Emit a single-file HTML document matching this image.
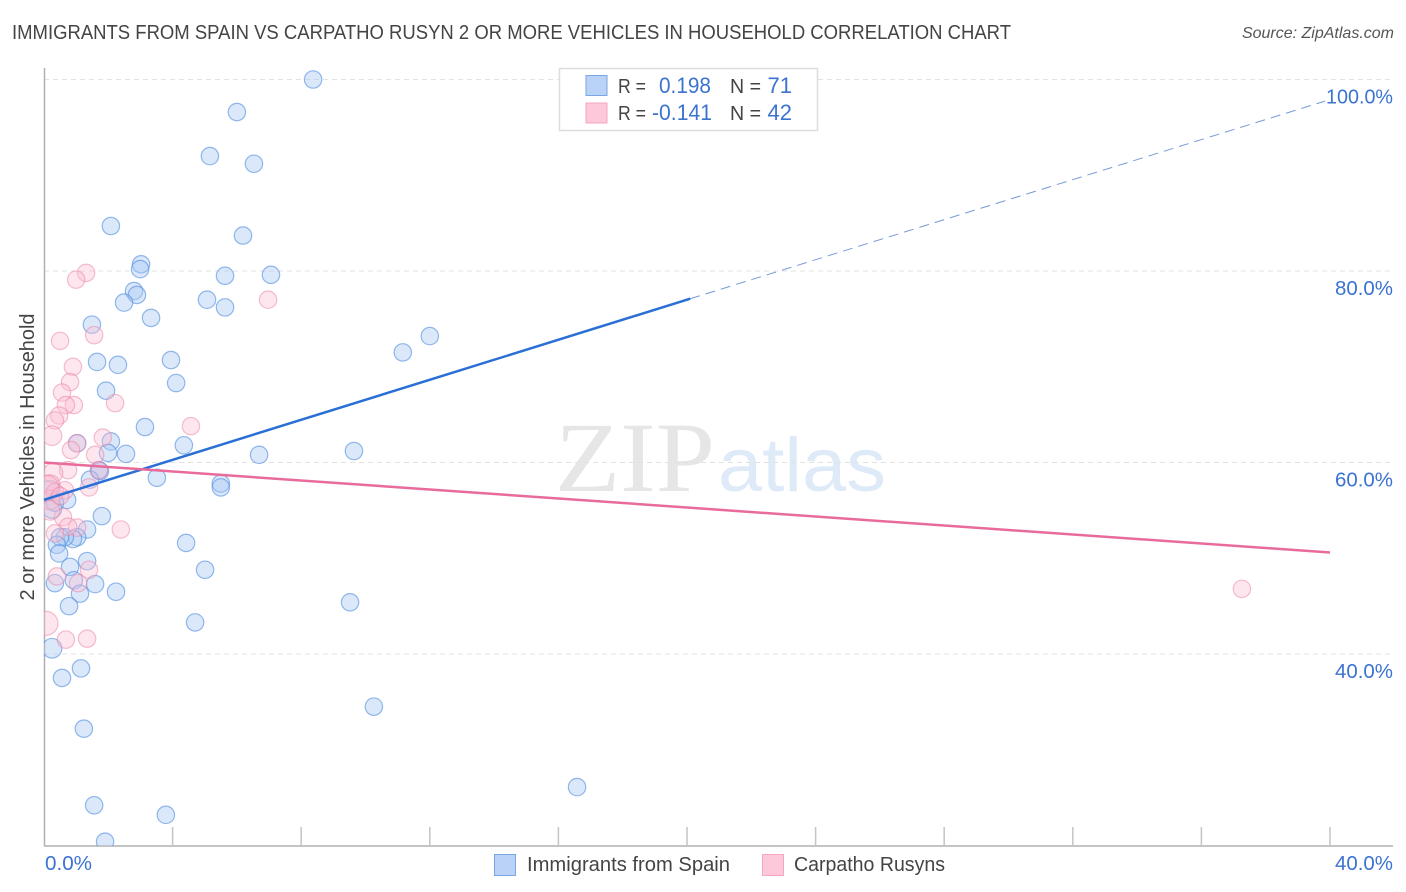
<!DOCTYPE html>
<html>
<head>
<meta charset="utf-8">
<title>Immigrants from Spain vs Carpatho Rusyn correlation chart</title>
<style>
  html, body { margin: 0; padding: 0; background: #fff; }
  svg { display: block; }
  text { font-family: "Liberation Sans", sans-serif; }
</style>
</head>
<body>
<svg id="chart" xmlns="http://www.w3.org/2000/svg" width="1406" height="892" viewBox="0 0 1406 892">
  <rect x="0" y="0" width="1406" height="892" fill="#ffffff"/>
  <text x="12" y="39" font-size="20" fill="#444444" textLength="999" lengthAdjust="spacingAndGlyphs">IMMIGRANTS FROM SPAIN VS CARPATHO RUSYN 2 OR MORE VEHICLES IN HOUSEHOLD CORRELATION CHART</text>
  <text x="1394" y="38" font-size="16" font-style="italic" fill="#555555" text-anchor="end">Source: ZipAtlas.com</text>
  <g>
    <text x="555" y="491" font-size="100" fill="#e6e6e6" style="font-family:'Liberation Serif',serif" textLength="160" lengthAdjust="spacingAndGlyphs">ZIP</text>
    <text x="718" y="491" font-size="76" fill="#deeaf8" textLength="168" lengthAdjust="spacingAndGlyphs">atlas</text>
  </g>
  <g id="grid"></g>
  <g id="axes"></g>
  <defs>
    <clipPath id="plot-clip"><rect x="44" y="60" width="1360" height="786"/></clipPath>
  </defs>
  <g id="points-blue" clip-path="url(#plot-clip)"></g>
  <g id="points-pink" clip-path="url(#plot-clip)"></g>
  <g id="trends"></g>
  <g id="labels"></g>
  <text transform="translate(34,457) rotate(-90)" font-size="20" fill="#444444" text-anchor="middle" textLength="287" lengthAdjust="spacingAndGlyphs">2 or more Vehicles in Household</text>

  <g>
    <rect x="559.5" y="68.5" width="258" height="62" fill="#ffffff" stroke="#dddddd" stroke-width="1.5"/>
    <rect x="586" y="75.5" width="21" height="20" fill="#b9d2f5" stroke="#7ba6e3" stroke-width="1"/>
    <rect x="586" y="103" width="21" height="20" fill="#fcc8da" stroke="#f4a6c2" stroke-width="1"/>
    <text x="618" y="93" font-size="20" fill="#444444" textLength="28" lengthAdjust="spacingAndGlyphs">R =</text>
    <text x="659" y="93" font-size="22" fill="#3b73d1" textLength="52" lengthAdjust="spacingAndGlyphs">0.198</text>
    <text x="730" y="93" font-size="20" fill="#444444" textLength="31" lengthAdjust="spacingAndGlyphs">N =</text>
    <text x="792" y="93" font-size="22" fill="#3b73d1" text-anchor="end">71</text>
    <text x="618" y="120" font-size="20" fill="#444444" textLength="28" lengthAdjust="spacingAndGlyphs">R =</text>
    <text x="652" y="120" font-size="22" fill="#3b73d1" textLength="60" lengthAdjust="spacingAndGlyphs">-0.141</text>
    <text x="730" y="120" font-size="20" fill="#444444" textLength="31" lengthAdjust="spacingAndGlyphs">N =</text>
    <text x="792" y="120" font-size="22" fill="#3b73d1" text-anchor="end">42</text>
  </g>

  <g>
    <rect x="494.5" y="854.5" width="21" height="21" fill="#b9d2f5" stroke="#7ba6e3" stroke-width="1"/>
    <text x="527" y="871" font-size="20" fill="#444444" textLength="203" lengthAdjust="spacingAndGlyphs">Immigrants from Spain</text>
    <rect x="762.5" y="854.5" width="21" height="21" fill="#fcc8da" stroke="#f4a6c2" stroke-width="1"/>
    <text x="794" y="871" font-size="20" fill="#444444" textLength="151" lengthAdjust="spacingAndGlyphs">Carpatho Rusyns</text>
  </g>
</svg>

<script>
// Data values (percent)
const spainX = [8.37,6.00,5.16,6.53,2.08,6.19,3.02,2.99,7.06,5.63,2.80,2.89,2.49,5.07,5.63,3.33,1.49,12.00,11.16,3.95,1.65,2.30,4.11,1.93,3.14,2.08,4.35,1.03,2.55,1.99,6.69,9.64,1.71,1.74,1.43,3.51,5.50,5.50,0.19,0.72,0.25,0.34,1.80,1.34,1.03,0.90,0.65,0.50,0.40,0.47,4.42,1.34,0.81,5.01,0.93,1.59,0.34,1.12,2.24,0.78,9.52,4.70,0.25,1.15,0.56,10.26,1.24,1.56,3.79,16.58,1.90];
const spainY = [100.0,96.6,92.0,91.2,84.7,83.7,80.7,80.2,79.6,79.5,77.9,77.5,76.7,77.0,76.2,75.1,74.4,73.2,71.5,70.7,70.5,70.2,68.3,67.5,63.7,62.2,61.8,62.0,60.9,61.0,60.8,61.2,59.2,59.1,58.2,58.4,57.8,57.4,57.1,56.1,55.2,55.8,54.4,53.0,52.2,52.0,52.2,52.2,51.4,50.5,51.6,49.7,49.1,48.8,47.7,47.3,47.4,46.3,46.5,45.0,45.4,43.3,40.6,38.5,37.5,34.5,32.2,24.2,23.2,26.1,20.4];
const rusynX = [1.31,1.00,6.97,1.56,0.50,0.90,0.81,0.56,2.21,0.93,0.68,0.47,0.34,0.25,4.57,1.83,1.03,0.84,1.59,0.75,0.28,1.71,1.40,0.65,0.19,0.34,0.19,0.59,1.03,0.75,2.39,0.34,1.40,0.40,1.06,0.06,0.68,1.34,37.26,0.19,0.09,0.50];
const rusynY = [79.8,79.1,77.0,73.3,72.7,70.0,68.4,67.3,66.2,66.0,66.0,64.9,64.4,62.8,63.8,62.6,62.0,61.3,60.8,59.2,58.9,59.2,57.4,57.1,57.7,56.9,56.1,54.3,53.2,53.3,53.0,52.6,48.8,48.1,47.4,43.2,41.5,41.6,46.8,55.0,57.4,56.5];
const spainTrendEnds = [56.1, 97.9];
const rusynTrendEnds = [60.0, 50.6];
const trendXEnds = [0, 40];
const spainSolidUntil = 20.1;
const yTicks = [100, 80, 60, 40];
const yTickLabels = ["100.0%", "80.0%", "60.0%", "40.0%"];
const xTicks = [4, 8, 12, 16, 20, 24, 28, 32, 36, 40];
const xEndLabels = ["0.0%", "40.0%"];

const NS = "http://www.w3.org/2000/svg";
function sx(v) { return 44 + v * 32.15; }
function sy(v) { return 654 - (v - 40) * 9.575; }
function make(tag, attrs, parent) {
  const el = document.createElementNS(NS, tag);
  for (const k in attrs) el.setAttribute(k, attrs[k]);
  parent.appendChild(el);
  return el;
}
function radius(x) { return x < 0.1 ? 12 : (x < 0.3 ? 9.8 : 8.7); }

const gridG = document.getElementById("grid");
yTicks.forEach(function (t) {
  const l = make("line", {x1: 44, x2: 1393, y1: sy(t), y2: sy(t), stroke: "#e2e2e2", "stroke-width": 1, "stroke-dasharray": "5 4"}, gridG);
  
  
});

const axesG = document.getElementById("axes");
const yAxis = make("line", {x1: 44.5, x2: 44.5, y1: 68, y2: 846, stroke: "#b0b0b0", "stroke-width": 1.5}, axesG);


const xAxis = make("line", {x1: 44, x2: 1393, y1: 846, y2: 846, stroke: "#b0b0b0", "stroke-width": 1.5}, axesG);


xTicks.forEach(function (t) {
  const l = make("line", {x1: sx(t), x2: sx(t), y1: 827, y2: 846, stroke: "#c4c4c4", "stroke-width": 1.5}, axesG);
  
  
});

const blueG = document.getElementById("points-blue");
spainX.forEach(function (x, i) {
  const c = make("circle", {cx: sx(x), cy: sy(spainY[i]), r: radius(x), fill: "#a9c8f2", "fill-opacity": 0.42, stroke: "#4f8ce0", "stroke-opacity": 0.6, "stroke-width": 1.2}, blueG);
  
  
});
const pinkG = document.getElementById("points-pink");
rusynX.forEach(function (x, i) {
  const c = make("circle", {cx: sx(x), cy: sy(rusynY[i]), r: radius(x), fill: "#f9bcd2", "fill-opacity": 0.38, stroke: "#ec7fa6", "stroke-opacity": 0.5, "stroke-width": 1.2}, pinkG);
  
  
});

const trendG = document.getElementById("trends");
function spainTrendAt(x) {
  return spainTrendEnds[0] + (spainTrendEnds[1] - spainTrendEnds[0]) * (x - trendXEnds[0]) / (trendXEnds[1] - trendXEnds[0]);
}
const blueDash = make("line", {x1: sx(spainSolidUntil), y1: sy(spainTrendAt(spainSolidUntil)), x2: sx(trendXEnds[1]) - 5, y2: sy(spainTrendEnds[1]) + 1.5, stroke: "#4a78c8", "stroke-opacity": 0.75, "stroke-width": 1, "stroke-dasharray": "10 6"}, trendG);


const blueSolid = make("line", {x1: sx(trendXEnds[0]), y1: sy(spainTrendEnds[0]), x2: sx(spainSolidUntil), y2: sy(spainTrendAt(spainSolidUntil)), stroke: "#2a6fd6", "stroke-width": 2.5}, trendG);


const pinkSolid = make("line", {x1: sx(trendXEnds[0]), y1: sy(rusynTrendEnds[0]), x2: sx(trendXEnds[1]), y2: sy(rusynTrendEnds[1]), stroke: "#e96b9c", "stroke-width": 2.5}, trendG);



const labelG = document.getElementById("labels");
yTicks.forEach(function (t, i) {
  const tx = make("text", {x: 1393, y: sy(t) + 24, "font-size": 20, fill: "#3b73d1", "text-anchor": "end", textLength: t === 100 ? 67 : 58, lengthAdjust: "spacingAndGlyphs"}, labelG);
  
  
  tx.textContent = yTickLabels[i];
});
const x0 = make("text", {x: 45, y: 870, "font-size": 20, fill: "#3b73d1", textLength: 47, lengthAdjust: "spacingAndGlyphs"}, labelG);


x0.textContent = xEndLabels[0];
const x1 = make("text", {x: 1393, y: 870, "font-size": 20, fill: "#3b73d1", "text-anchor": "end", textLength: 58, lengthAdjust: "spacingAndGlyphs"}, labelG);


x1.textContent = xEndLabels[1];
</script>
</body>
</html>
